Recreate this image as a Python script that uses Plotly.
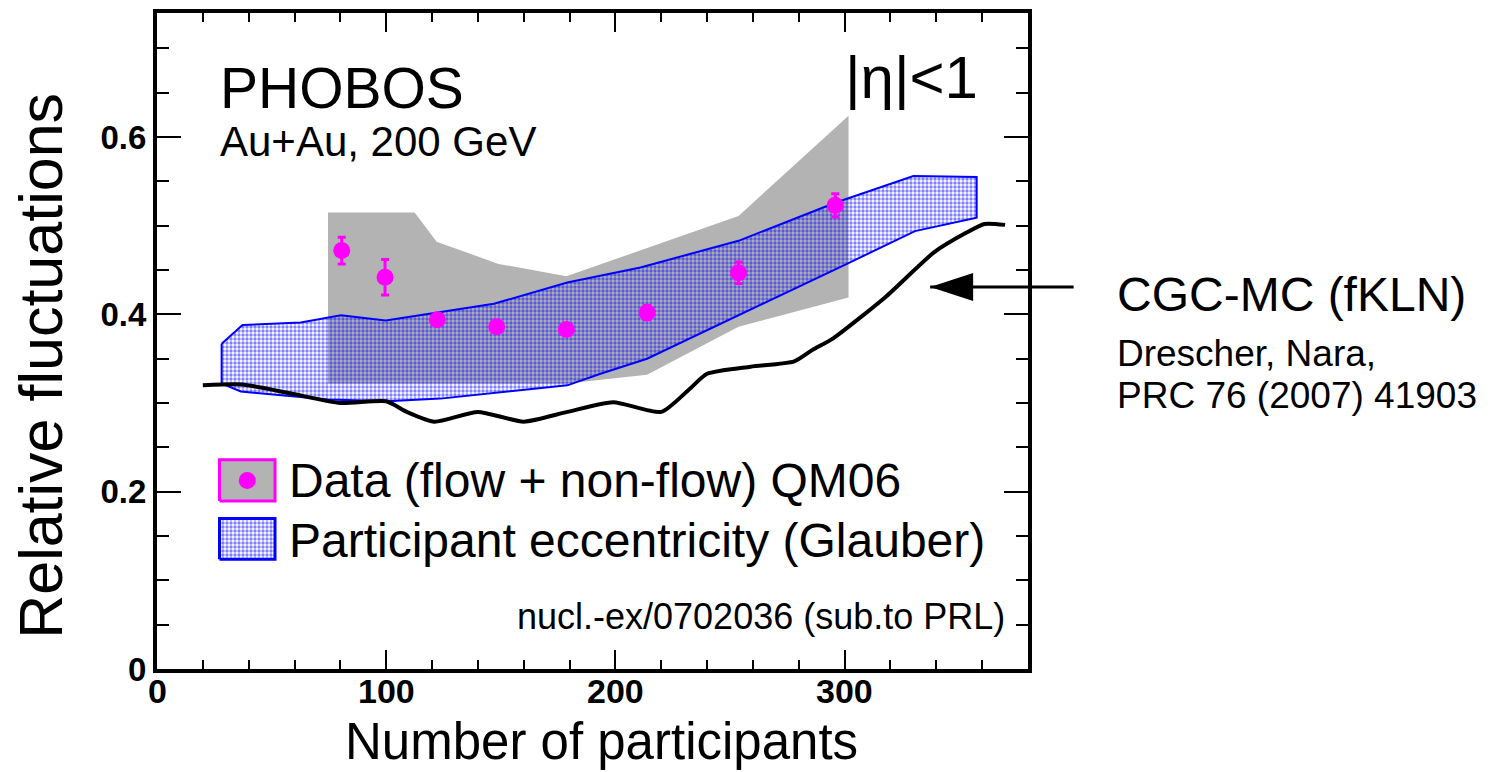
import plotly.graph_objects as go

# ---------------- data ----------------
# PHOBOS relative elliptic-flow fluctuations, Au+Au 200 GeV, |eta|<1
npart = [80.6, 99.5, 122.3, 148.2, 178.6, 213.8, 253.7, 295.9]
rel_fluct = [0.472, 0.442, 0.394, 0.386, 0.383, 0.402, 0.447, 0.523]
rel_fluct_err = [0.015, 0.020, 0.006, 0.006, 0.006, 0.008, 0.012, 0.013]

# systematic uncertainty band of the data (upper / lower edges)
sys_x_upper = [74.6, 112.4, 122.0, 149.0, 178.6, 253.7, 301.7]
sys_y_upper = [0.515, 0.515, 0.482, 0.457, 0.443, 0.511, 0.624]
sys_x_lower = [74.6, 178.6, 213.8, 253.7, 301.7]
sys_y_lower = [0.322, 0.322, 0.332, 0.386, 0.419]

# participant eccentricity fluctuations (Glauber MC) band
glb_x_upper = [28.2, 37.3, 62.7, 80.2, 99.8, 119.4, 147.0, 179.0, 210.9, 253.7, 295.9, 330.0, 357.6]
glb_y_upper = [0.367, 0.388, 0.391, 0.399, 0.393, 0.401, 0.412, 0.436, 0.453, 0.483, 0.526, 0.556, 0.555]
glb_x_lower = [28.2, 36.6, 74.4, 100.5, 123.7, 179.0, 193.5, 213.8, 266.0, 301.0, 330.7, 357.6]
glb_y_lower = [0.322, 0.313, 0.304, 0.302, 0.305, 0.320, 0.333, 0.350, 0.414, 0.457, 0.494, 0.509]

# CGC-MC (fKLN) prediction
cgc_x = [20, 37, 58, 80, 100, 109, 121, 140, 160, 179, 199, 220, 232, 240, 259, 278,
         286, 295, 318, 339, 353, 361, 370]
cgc_y = [0.320, 0.321, 0.311, 0.300, 0.302, 0.290, 0.279, 0.290, 0.279, 0.290, 0.301, 0.290,
         0.315, 0.333, 0.341, 0.347, 0.360, 0.373, 0.420, 0.470, 0.492, 0.502, 0.501]

x_ticks = [0, 100, 200, 300]
y_ticks = [0, 0.2, 0.4, 0.6]

# ---------------- styling ----------------
FONT = "Liberation Sans, Arial, sans-serif"
MAGENTA = "#ff00ff"
GRAY = "#b3b3b3"
BLUE = "#0000ff"

W, H = 1496, 772
ML, MR, MT, MB = 157, 468, 9, 103
PW, PH = W - ML - MR, H - MT - MB


def paper_x(xp):
    return (xp - ML) / PW


def paper_y(yp):
    return (H - MB - yp) / PH


def band(xu, yu, xl, yl):
    xs = list(xu) + list(reversed(xl)) + [xu[0]]
    ys = list(yu) + list(reversed(yl)) + [yu[0]]
    return xs, ys


fig = go.Figure()

sx, sy = band(sys_x_upper, sys_y_upper, sys_x_lower, sys_y_lower)
fig.add_trace(go.Scatter(x=sx, y=sy, mode="lines", fill="toself", fillcolor=GRAY,
                         line=dict(width=0, color=GRAY), showlegend=False, hoverinfo="skip"))

gx, gy = band(glb_x_upper, glb_y_upper, glb_x_lower, glb_y_lower)
dots = dict(shape=".", fgcolor=BLUE, bgcolor="rgba(0,0,0,0)", size=4, solidity=0.55)
fig.add_trace(go.Scatter(x=gx, y=gy, mode="lines", fill="toself",
                         fillcolor="rgba(0,0,0,0)", fillpattern=dots,
                         line=dict(width=2, color=BLUE), showlegend=False, hoverinfo="skip"))

fig.add_trace(go.Scatter(x=cgc_x, y=cgc_y, mode="lines",
                         line=dict(color="black", width=4, shape="spline", smoothing=0.6),
                         showlegend=False, hoverinfo="skip"))

fig.add_trace(go.Scatter(x=npart, y=rel_fluct, mode="markers",
                         marker=dict(color=MAGENTA, size=17, line=dict(width=0)),
                         error_y=dict(type="data", array=rel_fluct_err, color=MAGENTA,
                                      thickness=3, width=4),
                         showlegend=False))

# legend swatches on an overlay frame spanning the plot area in [0,1] units
sw_x = [paper_x(219.5), paper_x(275)]
sw1_y = [paper_y(500), paper_y(458.5)]
sw2_y = [paper_y(558.5), paper_y(517.5)]


def rect(xr, yr):
    return [xr[0], xr[1], xr[1], xr[0], xr[0]], [yr[0], yr[0], yr[1], yr[1], yr[0]]


rx, ry = rect(sw_x, sw1_y)
fig.add_trace(go.Scatter(x=rx, y=ry, xaxis="x2", yaxis="y2", mode="lines", fill="toself",
                         fillcolor=GRAY, line=dict(color=MAGENTA, width=3),
                         showlegend=False, hoverinfo="skip"))
fig.add_trace(go.Scatter(x=[sum(sw_x) / 2], y=[sum(sw1_y) / 2], xaxis="x2", yaxis="y2",
                         mode="markers", marker=dict(color=MAGENTA, size=17),
                         showlegend=False, hoverinfo="skip"))
rx, ry = rect(sw_x, sw2_y)
fig.add_trace(go.Scatter(x=rx, y=ry, xaxis="x2", yaxis="y2", mode="lines", fill="toself",
                         fillcolor="rgba(0,0,0,0)", fillpattern=dots,
                         line=dict(color=BLUE, width=3),
                         showlegend=False, hoverinfo="skip"))

axis_common = dict(showline=True, linewidth=4, linecolor="black", mirror="allticks",
                   ticks="inside", tickwidth=2, tickcolor="black", showgrid=False,
                   zeroline=False)

fig.update_layout(
    width=W, height=H,
    margin=dict(l=ML, r=MR, t=MT, b=MB, pad=0),
    paper_bgcolor="white", plot_bgcolor="white",
    xaxis=dict(range=[0, 380], tickvals=x_ticks, ticklen=19, showticklabels=False,
               minor=dict(dtick=20, ticklen=9, tickwidth=2, ticks="inside", tickcolor="black"),
               **axis_common),
    yaxis=dict(range=[0, 0.74], tickvals=y_ticks, ticklen=24,
               tickfont=dict(family=FONT, size=33, color="black", weight="bold"),
               minor=dict(dtick=0.05, ticklen=12, tickwidth=2, ticks="inside", tickcolor="black"),
               **axis_common),
    xaxis2=dict(range=[0, 1], overlaying="x", visible=False, fixedrange=True),
    yaxis2=dict(range=[0, 1], overlaying="y", visible=False, fixedrange=True),
    showlegend=False,
)

# x tick labels, set just under the frame
for v in x_ticks:
    fig.add_annotation(text=f"{v:g}", x=v, xref="x", y=paper_y(691), yref="paper",
                       xanchor="center", yanchor="middle", showarrow=False,
                       font=dict(family=FONT, size=34, color="black", weight="bold"))

texts = [
    ("PHOBOS", 218, 84, 57, "left"),
    ("Au+Au, 200 GeV", 218, 138, 42, "left"),
    ("|η|<1", 980, 74, 60, "right"),
    ("Data (flow + non-flow) QM06", 287, 479, 48, "left"),
    ("Participant eccentricity (Glauber)", 287, 540, 48, "left"),
    ("nucl.-ex/0702036 (sub.to PRL)", 1007, 616, 36, "right"),
    ("CGC-MC (fKLN)", 1115, 292, 48, "left"),
    ("Drescher, Nara,", 1115, 352, 37, "left"),
    ("PRC 76 (2007) 41903", 1115, 394, 37, "left"),
    ("Number of participants", 601, 742, 51, "center"),
]
for txt, xp, yp, size, anchor in texts:
    fig.add_annotation(text=txt, xref="paper", yref="paper", x=paper_x(xp), y=paper_y(yp),
                       xanchor=anchor, yanchor="middle", showarrow=False,
                       font=dict(family=FONT, size=size, color="black"))

fig.add_annotation(text="Relative fluctuations", xref="paper", yref="paper",
                   x=paper_x(41), y=paper_y(364), xanchor="center", yanchor="middle",
                   textangle=-90, showarrow=False,
                   font=dict(family=FONT, size=61, color="black"))

# arrow pointing at the CGC-MC curve
tip_x, tip_y = 337.3, 0.431
fig.add_annotation(x=tip_x, y=tip_y, xref="x", yref="y", text="", showarrow=True,
                   arrowhead=0, arrowwidth=3, arrowcolor="black", ax=145, ay=0, standoff=0)
fig.add_shape(type="path", xref="x", yref="y", xsizemode="pixel", ysizemode="pixel",
              xanchor=tip_x, yanchor=tip_y, path="M0,0 L43,14 L43,-14 Z",
              fillcolor="black", line=dict(width=0))

fig.write_html("out.html")
